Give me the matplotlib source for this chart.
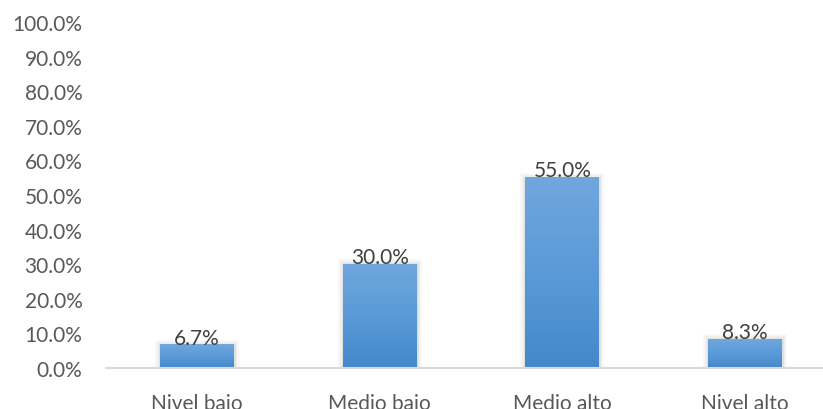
import numpy as np
import matplotlib
matplotlib.use("Agg")
import matplotlib.pyplot as plt
from matplotlib.colors import LinearSegmentedColormap
import matplotlib.patheffects as pe

# ── Data ─────────────────────────────────────────────────────
categories = ["Nivel bajo", "Medio bajo", "Medio alto", "Nivel alto"]
percentages = [6.7, 30.0, 55.0, 8.3]
y_ticks = [0, 10, 20, 30, 40, 50, 60, 70, 80, 90, 100]

# ── Style ────────────────────────────────────────────────────
plt.rcParams["font.family"] = ["Lato", "DejaVu Sans"]
BAR_W = 0.405
FS = 15
grad = LinearSegmentedColormap.from_list("bar_grad", ["#4488cb", "#5a9ad8", "#70a7dd"])

fig = plt.figure(figsize=(8.23, 4.10), dpi=100)
ax = fig.add_axes([106 / 823, 41 / 410, 730 / 823, 346 / 410])

x = np.arange(len(categories))
shadow = [pe.Stroke(linewidth=7, foreground="#000000", alpha=0.03),
          pe.Stroke(linewidth=4, foreground="#000000", alpha=0.04),
          pe.Stroke(linewidth=2, foreground="#000000", alpha=0.05),
          pe.Normal()]
bars = ax.bar(x, percentages, width=BAR_W, color="#5a9ad8", linewidth=0,
              zorder=2)
for b in bars:
    b.set_path_effects(shadow)

# vertical gradient fill on each bar
g = np.linspace(0, 1, 256).reshape(-1, 1)
for xi, v in zip(x, percentages):
    ax.imshow(g, extent=[xi - BAR_W / 2, xi + BAR_W / 2, 0, v], origin="lower",
              cmap=grad, aspect="auto", zorder=3, interpolation="bilinear")
    ax.annotate(f"{v:.1f}%", (xi, v), xytext=(0, -2), textcoords="offset points",
                ha="center", va="bottom", fontsize=FS, color="#404040", zorder=4)

ax.set_xlim(-0.5, len(categories) - 0.5)
ax.set_ylim(0, 100)
ax.set_yticks(y_ticks)
ax.set_yticklabels([f"{t:.1f}%" for t in y_ticks])
ax.set_xticks(x)
ax.set_xticklabels(categories)
ax.tick_params(axis="y", length=0, pad=17, labelsize=FS, labelcolor="#595959")
ax.tick_params(axis="x", length=0, pad=18, labelsize=FS, labelcolor="#595959")

for s in ["top", "right", "left"]:
    ax.spines[s].set_visible(False)
ax.spines["bottom"].set_color("#d9d9d9")
ax.spines["bottom"].set_linewidth(1.5)
ax.spines["bottom"].set_zorder(5)

fig.savefig("out.png", dpi=100)
